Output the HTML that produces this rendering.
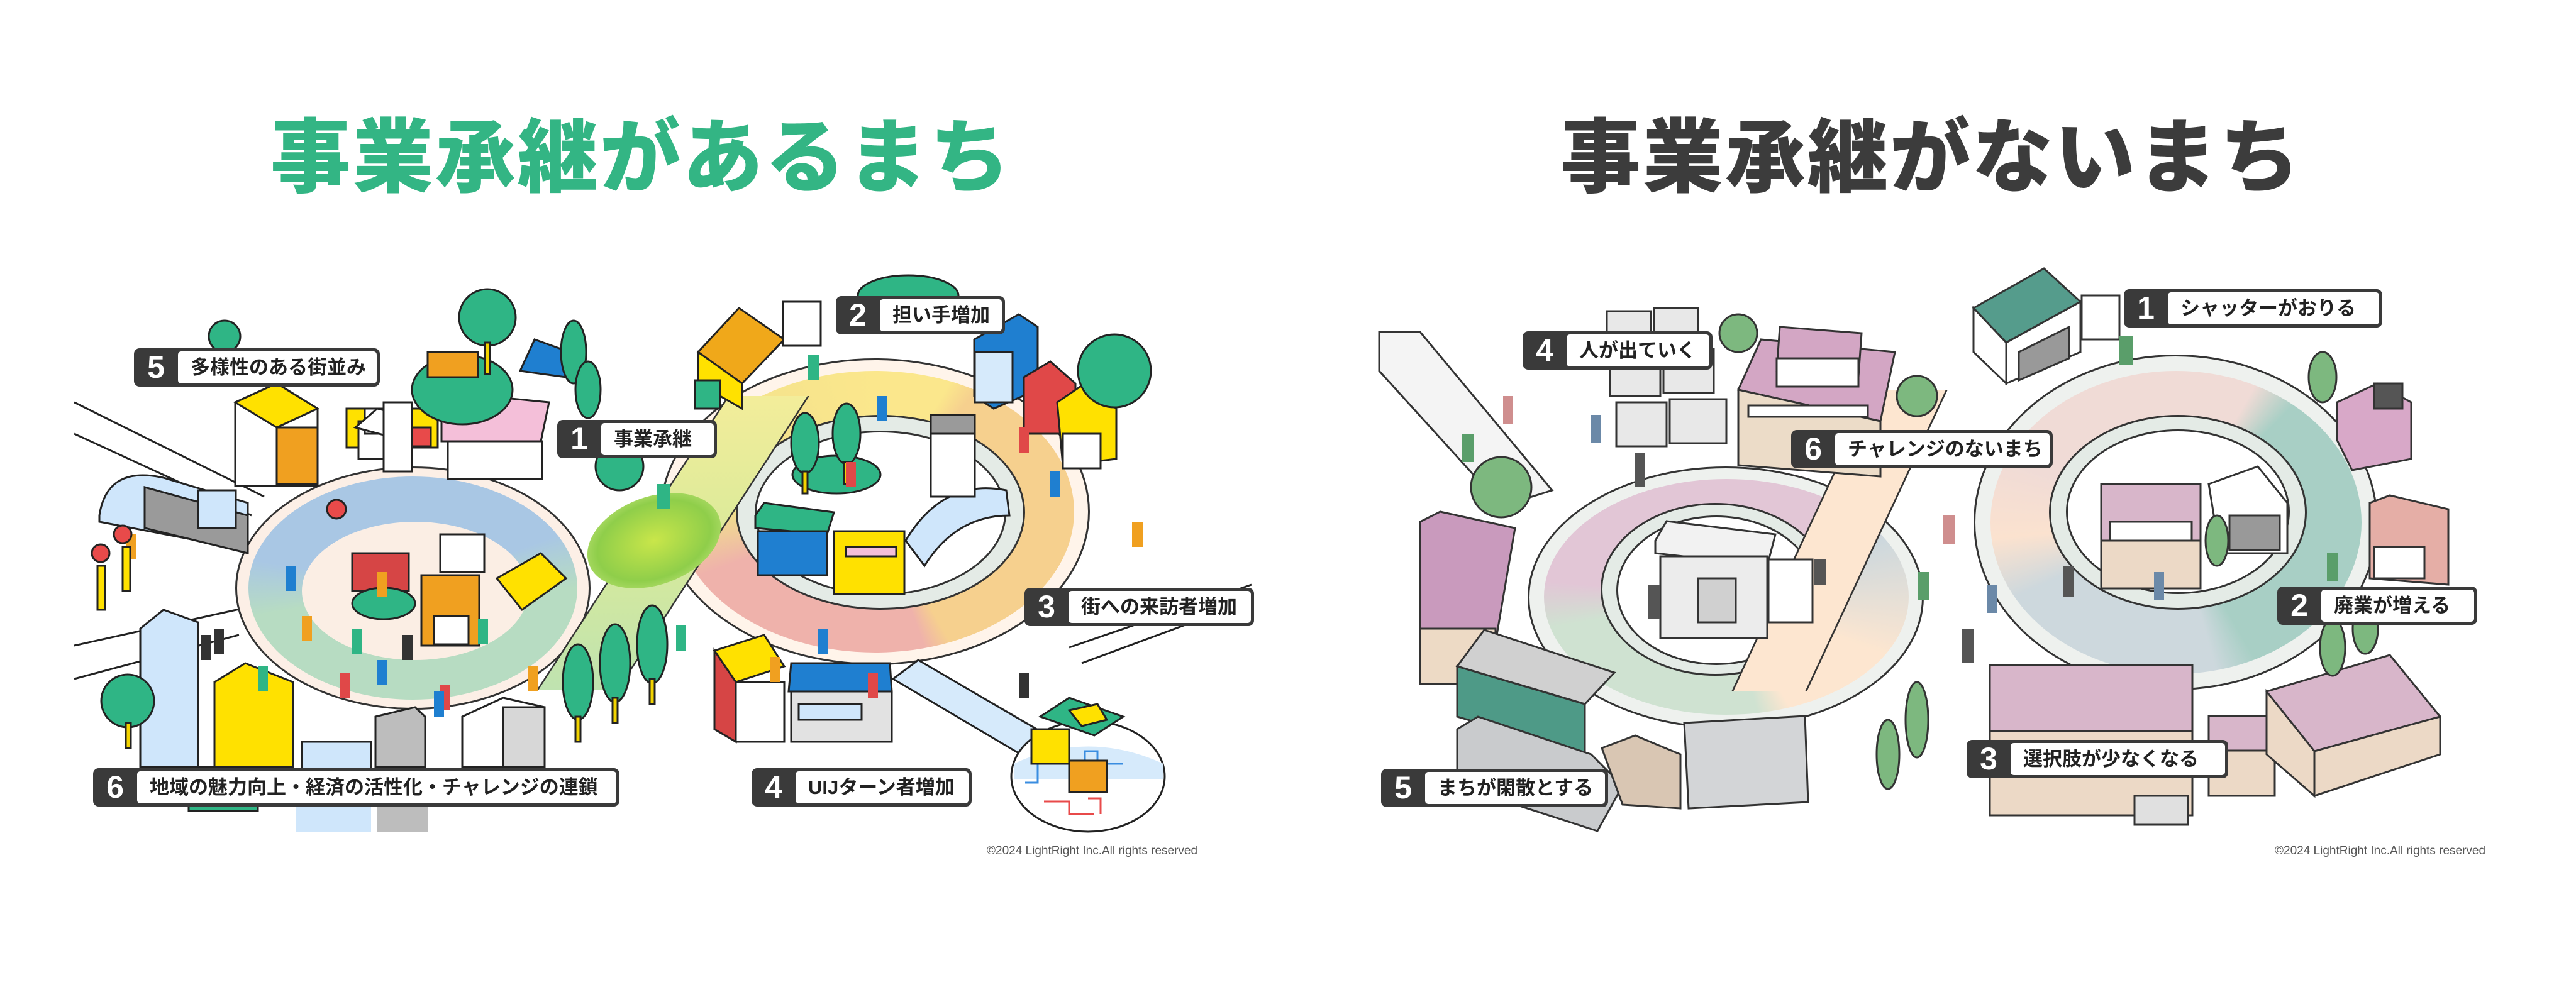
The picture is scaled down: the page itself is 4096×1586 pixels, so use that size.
<!DOCTYPE html>
<html><head><meta charset="utf-8">
<style>
*{margin:0;padding:0;box-sizing:border-box}
body{width:4096px;height:1586px;background:#fff;position:relative;overflow:hidden;font-family:"Liberation Sans","Noto Sans CJK JP",sans-serif}
.a{position:absolute}
.title{position:absolute;top:172px;font-family:"Liberation Sans","Noto Sans CJK JP",sans-serif;font-weight:900;font-size:128px;letter-spacing:3px;white-space:nowrap;line-height:160px}
.lb{position:absolute;height:61px;background:#3a3a3a;border-radius:9px;display:flex;padding:5px 5px 5px 0;z-index:5}
.n{width:70px;color:#fff;font-weight:bold;font-size:50px;text-align:center;line-height:51px}
.t{flex:1;background:#fff;border-radius:5px;font-weight:bold;font-size:31px;line-height:51px;padding-left:20px;color:#222;white-space:nowrap}
.cp{position:absolute;font-size:19px;color:#555;top:1343px}
.ell{position:absolute;border-radius:50%}
</style></head><body>

<div class="title" style="left:430px;color:#33b584">事業承継があるまち</div>
<div class="title" style="left:2481px;color:#3c3c3c">事業承継がないまち</div>

<!-- LEFT SCENE -->
<svg class="a" style="left:0;top:0" width="2048" height="1586" viewBox="0 0 2048 1586">
 <g stroke="#222" stroke-width="3" fill="none">
  <path d="M118 640 L420 790 M118 690 L400 820 M118 1027 L394 966 M118 1080 L380 1010 M1700 1030 L1990 930 M1720 1055 L1990 955"/>
 </g>
</svg>

<!-- right loop left scene -->
<div class="ell" style="left:1050px;top:570px;width:683px;height:488px;background:#fff4ea;border:3px solid #333"></div>
<div class="ell" style="left:1075px;top:590px;width:633px;height:448px;background:conic-gradient(#fbe78c 0deg,#fbe78c 30deg,#f6d08e 40deg,#f6d08e 150deg,#efb2ab 160deg,#efb2ab 250deg,#f0e08c 270deg,#fbe78c 360deg)"></div>
<div class="ell" style="left:1170px;top:660px;width:460px;height:310px;background:#e4ebe6;border:3px solid #333"></div>
<div class="ell" style="left:1200px;top:685px;width:400px;height:262px;background:#fff;border:3px solid #333"></div>

<!-- plaza left -->
<div class="ell" style="left:374px;top:742px;width:565px;height:387px;background:#fcefe6;border:3px solid #333"></div>
<div class="ell" style="left:395px;top:758px;width:523px;height:355px;background:conic-gradient(#a9c7e4 0deg,#a9c7e4 70deg,#b7dcc2 90deg,#b7dcc2 260deg,#a9c7e4 280deg)"></div>
<div class="ell" style="left:480px;top:830px;width:360px;height:220px;background:#fbeee4"></div>

<!-- crossing band -->
<div class="a" style="left:1005px;top:630px;width:130px;height:468px;background:linear-gradient(#f3ed9a,#d9ea9a 50%,#bfe3b0);transform:skewX(-33deg);border-left:3px solid #333;border-right:3px solid #333"></div>
<div class="ell" style="left:930px;top:790px;width:220px;height:140px;background:radial-gradient(#c9e64a,#8fce4a 60%,#d8ee90);transform:rotate(-20deg)"></div>

<svg class="a" style="left:0;top:0" width="2048" height="1586" viewBox="0 0 2048 1586" stroke="#222" stroke-width="3">
 <path d="M1420 1080 L1640 1210 L1700 1190 L1460 1050Z" fill="#d6eafb"/>
 <ellipse cx="1730" cy="1235" rx="122" ry="88" fill="#fff"/>
 <path d="M1612 1215 Q1730 1160 1850 1215 L1850 1240 L1612 1240Z" fill="#d6eafb" stroke="none"/>
 <path d="M1630 1245 h20 v-30 h25 v-30 h25 v40 h25 v-30 h20 v20 h40" fill="none" stroke="#3a8de0" stroke-width="3"/>
 <path d="M1660 1275 h40 v20 h40 M1730 1270 h20 v25" fill="none" stroke="#e84a4a" stroke-width="3"/>
 <path d="M158 820 Q170 740 260 760 L394 800 L394 875 L158 830Z" fill="#cfe6fb"/>
 <path d="M230 775 L394 820 L394 880 L230 840Z" fill="#9a9a9a"/>
 <path d="M374 640 L440 610 L505 650 L505 773 L374 773Z" fill="#fff"/>
 <path d="M374 640 L440 610 L505 650 L440 680Z" fill="#ffe100"/>
 <rect x="440" y="680" width="65" height="90" fill="#f0a020"/>
 <rect x="551" y="650" width="145" height="62" fill="#ffe100"/>
 <rect x="575" y="680" width="110" height="30" fill="#e84a4a"/>
 <path d="M702 650 L722 625 L873 640 L860 702 L702 702Z" fill="#f4bfd9"/>
 <rect x="712" y="702" width="150" height="60" fill="#fff"/>
 <path d="M827 590 L850 540 L906 560 L900 600Z" fill="#1f7fd0"/>
 <rect x="570" y="670" width="70" height="60" fill="#fff"/>
 <rect x="580" y="650" width="50" height="40" fill="#fff"/>
 <path d="M565 680 L600 650 L640 660 L640 700Z" fill="#fff"/>
 <rect x="610" y="640" width="45" height="110" fill="#fff"/>
 <rect x="315" y="780" width="60" height="60" fill="#cfe6fb"/>
 <rect x="670" y="915" width="92" height="112" fill="#f0a020"/>
 <rect x="690" y="980" width="55" height="45" fill="#fff"/>
 <rect x="560" y="880" width="90" height="60" fill="#d64545"/>
 <ellipse cx="610" cy="960" rx="50" ry="25" fill="#2fb585"/>
 <rect x="700" y="850" width="70" height="60" fill="#fff"/>
 <path d="M790 920 L860 880 L900 920 L830 970Z" fill="#ffe100"/>
 <path d="M223 1000 L260 970 L315 990 L315 1220 L223 1220Z" fill="#cfe6fb"/>
 <path d="M341 1085 L390 1055 L466 1085 L466 1220 L341 1220Z" fill="#ffe100"/>
 <path d="M597 1140 L660 1125 L676 1140 L676 1220 L597 1220Z" fill="#bdbdbd"/>
 <path d="M735 1140 L800 1110 L866 1125 L866 1220 L735 1220Z" fill="#fff"/>
 <rect x="800" y="1125" width="66" height="95" fill="#d7d7d7"/>
 <rect x="480" y="1180" width="110" height="60" fill="#cfe6fb"/>
 <rect x="300" y="1220" width="110" height="70" fill="#2fb585"/>
 <rect x="470" y="1283" width="120" height="40" fill="#cfe6fb" stroke="none"/>
 <rect x="600" y="1283" width="80" height="40" fill="#bdbdbd" stroke="none"/>
 <ellipse cx="735" cy="620" rx="80" ry="55" fill="#2fb585"/>
 <rect x="680" y="560" width="80" height="40" fill="#f0a020"/>
 <path d="M1110 560 L1175 490 L1247 540 L1180 610Z" fill="#f0a81a"/>
 <path d="M1110 560 L1180 610 L1180 650 L1110 610Z" fill="#ffe100"/>
 <rect x="1105" y="605" width="40" height="45" fill="#2fb585"/>
 <rect x="1245" y="480" width="60" height="70" fill="#fff"/>
 <path d="M1549 540 L1620 500 L1650 520 L1650 620 L1580 650 L1549 630Z" fill="#1f7fd0"/>
 <rect x="1550" y="560" width="60" height="80" fill="#d6eafb"/>
 <path d="M1628 600 L1670 575 L1710 610 L1710 690 L1628 690Z" fill="#e04848"/>
 <path d="M1681 640 L1725 610 L1775 650 L1775 730 L1690 740Z" fill="#ffe100"/>
 <rect x="1690" y="690" width="60" height="55" fill="#fff"/>
 <path d="M1201 820 L1215 800 L1326 815 L1315 850 L1201 840Z" fill="#2fb585"/>
 <rect x="1205" y="845" width="110" height="70" fill="#1f7fd0"/>
 <rect x="1326" y="845" width="112" height="100" fill="#ffe100"/>
 <rect x="1345" y="870" width="80" height="15" fill="#f4bfd9"/>
 <path d="M1440 860 Q1500 760 1600 780 L1605 820 Q1520 820 1470 900Z" fill="#cfe6fb"/>
 <rect x="1480" y="660" width="70" height="130" fill="#fff"/>
 <rect x="1480" y="660" width="70" height="30" fill="#9a9a9a"/>
 <path d="M1136 1035 L1215 1010 L1247 1060 L1170 1085Z" fill="#ffe100"/>
 <path d="M1136 1035 L1170 1085 L1170 1180 L1136 1160Z" fill="#d64545"/>
 <rect x="1170" y="1085" width="77" height="95" fill="#fff"/>
 <path d="M1258 1055 L1415 1055 L1418 1100 L1254 1100Z" fill="#1f7fd0"/>
 <rect x="1258" y="1100" width="160" height="80" fill="#e2e2e2"/>
 <rect x="1270" y="1120" width="100" height="25" fill="#cfe6fb"/>
 <path d="M1654 1140 L1700 1110 L1786 1140 L1740 1170Z" fill="#2fb585"/>
 <path d="M1700 1130 L1745 1120 L1760 1145 L1720 1155Z" fill="#ffe100"/>
 <rect x="1640" y="1160" width="60" height="55" fill="#ffe100"/>
 <rect x="1700" y="1210" width="60" height="50" fill="#f0a020"/>
 <g fill="#2fb585">
  <circle cx="775" cy="505" r="45"/><circle cx="357" cy="535" r="25"/>
  <circle cx="203" cy="1115" r="42"/><circle cx="985" cy="742" r="38"/>
  <circle cx="1772" cy="590" r="58"/><ellipse cx="1444" cy="470" rx="80" ry="32"/>
  <ellipse cx="1330" cy="755" rx="70" ry="30"/>
 </g>
 <g stroke="#222" stroke-width="3" fill="#f3d400">
  <rect x="200" y="1150" width="8" height="40"/><rect x="771" y="545" width="8" height="50"/>
 </g>
 <g fill="#2fb585">
  <ellipse cx="912" cy="560" rx="20" ry="50"/><ellipse cx="935" cy="620" rx="20" ry="45"/>
  <ellipse cx="919" cy="1085" rx="24" ry="60"/><ellipse cx="978" cy="1055" rx="24" ry="62"/>
  <ellipse cx="1037" cy="1025" rx="24" ry="62"/>
  <ellipse cx="1280" cy="705" rx="22" ry="48"/><ellipse cx="1346" cy="690" rx="22" ry="48"/>
 </g>
 <g fill="#f3d400">
  <rect x="915" y="1140" width="8" height="40"/><rect x="974" y="1110" width="8" height="40"/>
  <rect x="1033" y="1080" width="8" height="40"/><rect x="1276" y="750" width="8" height="35"/>
  <rect x="1342" y="735" width="8" height="35"/>
 </g>
 <g stroke="none">
  <g fill="#2fb585"><rect x="1075" y="995" width="16" height="40"/><rect x="1285" y="565" width="18" height="40"/><rect x="1045" y="770" width="20" height="40"/><rect x="560" y="1000" width="16" height="40"/><rect x="760" y="985" width="16" height="40"/><rect x="410" y="1060" width="16" height="40"/></g>
  <g fill="#f0a020"><rect x="600" y="910" width="16" height="40"/><rect x="480" y="980" width="16" height="40"/><rect x="1225" y="1045" width="16" height="40"/><rect x="1800" y="830" width="18" height="40"/><rect x="840" y="1060" width="16" height="40"/><rect x="200" y="850" width="16" height="40"/></g>
  <g fill="#e04848"><rect x="1345" y="735" width="16" height="40"/><rect x="1380" y="1070" width="16" height="40"/><rect x="540" y="1070" width="16" height="40"/><rect x="700" y="1090" width="16" height="40"/><rect x="1620" y="680" width="16" height="40"/></g>
  <g fill="#1f7fd0"><rect x="455" y="900" width="16" height="40"/><rect x="600" y="1050" width="16" height="40"/><rect x="1300" y="1000" width="16" height="40"/><rect x="1670" y="750" width="16" height="40"/><rect x="1395" y="630" width="16" height="40"/><rect x="690" y="1100" width="16" height="40"/></g>
  <g fill="#333"><rect x="640" y="1010" width="16" height="40"/><rect x="320" y="1010" width="16" height="40"/><rect x="340" y="1000" width="16" height="40"/><rect x="1620" y="1070" width="16" height="40"/></g>
 </g>
 <circle cx="535" cy="810" r="15" fill="#e84a4a"/><circle cx="195" cy="850" r="14" fill="#e84a4a"/><circle cx="160" cy="880" r="14" fill="#e84a4a"/>
 <rect x="195" y="870" width="12" height="70" fill="#ffe100"/><rect x="155" y="900" width="12" height="70" fill="#ffe100"/>
</svg>

<!-- RIGHT SCENE -->
<svg class="a" style="left:2048px;top:0" width="2048" height="1586" viewBox="0 0 2048 1586" stroke="#333" stroke-width="3">
 <path d="M145 528 L210 528 L420 780 L340 805 L145 590Z" fill="#f4f4f4"/>
</svg>
<div class="ell" style="left:3138px;top:564px;width:643px;height:534px;background:#eef1ee;border:3px solid #333"></div>
<div class="ell" style="left:3165px;top:590px;width:590px;height:482px;background:conic-gradient(#f0dbd6 0deg,#f0dbd6 30deg,#a8cfc5 45deg,#a8cfc5 150deg,#cdd8dd 165deg,#cdd8dd 245deg,#fbe2cf 265deg,#f0dbd6 290deg)"></div>
<div class="ell" style="left:3258px;top:660px;width:410px;height:310px;background:#e4ebe6;border:3px solid #333"></div>
<div class="ell" style="left:3285px;top:683px;width:356px;height:262px;background:#fff;border:3px solid #333"></div>
<div class="ell" style="left:2429px;top:742px;width:630px;height:417px;background:#eef1ee;border:3px solid #333"></div>
<div class="ell" style="left:2455px;top:762px;width:580px;height:375px;background:conic-gradient(#e2c6d6 0deg,#e2c6d6 55deg,#cdd8dd 70deg,#fde6d0 110deg,#fde6d0 150deg,#cfe2d1 165deg,#cfe2d1 260deg,#e2c6d6 275deg)"></div>
<div class="ell" style="left:2545px;top:800px;width:365px;height:275px;background:#e4ebe6;border:3px solid #333"></div>
<div class="ell" style="left:2570px;top:820px;width:318px;height:238px;background:#fff;border:3px solid #333"></div>
<div class="a" style="left:2865px;top:620px;width:120px;height:480px;background:#fde6d0;transform:skewX(-25deg);border-left:3px solid #333;border-right:3px solid #333"></div>

<svg class="a" style="left:0;top:0;z-index:2" width="4096" height="1586" viewBox="0 0 4096 1586" stroke="#333" stroke-width="3">
 <path d="M3138 490 L3250 427 L3308 480 L3190 545Z" fill="#559c8c"/>
 <path d="M3138 490 L3190 545 L3190 610 L3138 560Z" fill="#fff"/>
 <path d="M3190 545 L3308 480 L3308 560 L3190 610Z" fill="#fff"/>
 <path d="M3210 560 L3290 520 L3290 570 L3210 605Z" fill="#999"/>
 <rect x="3310" y="470" width="60" height="70" fill="#fff"/>
 <g fill="#e8e8e8">
  <rect x="2555" y="495" width="70" height="60"/><rect x="2630" y="490" width="70" height="60"/>
  <rect x="2560" y="560" width="80" height="70"/><rect x="2645" y="555" width="80" height="70"/>
  <rect x="2570" y="640" width="80" height="70"/><rect x="2655" y="635" width="90" height="70"/>
 </g>
 <path d="M2764 620 L2800 540 L3013 560 L2990 670Z" fill="#d3a6c4"/>
 <path d="M2830 520 L2960 530 L2955 600 L2825 590Z" fill="#d3a6c4"/>
 <rect x="2825" y="570" width="130" height="45" fill="#fff"/>
 <path d="M2764 620 L2990 670 L2990 758 L2764 740Z" fill="#ecdcc8"/>
 <rect x="2780" y="645" width="190" height="18" fill="#fff"/>
 <path d="M2258 830 L2290 814 L2409 840 L2380 1010 L2258 1000Z" fill="#c99abd"/>
 <rect x="2258" y="1000" width="120" height="88" fill="#eddac5"/>
 <path d="M2317 1060 L2360 1002 L2567 1070 L2520 1120Z" fill="#d0d0d0"/>
 <path d="M2317 1060 L2520 1120 L2520 1200 L2317 1140Z" fill="#4e9a87"/>
 <path d="M2317 1160 L2350 1140 L2530 1200 L2580 1250 L2540 1322 L2317 1250Z" fill="#c9cbcd"/>
 <path d="M2547 1190 L2600 1170 L2672 1200 L2672 1286 L2580 1280Z" fill="#d9c6b3"/>
 <path d="M2678 1150 L2870 1139 L2875 1276 L2685 1286Z" fill="#d3d5d7"/>
 <path d="M2632 860 L2650 829 L2823 850 L2810 900 L2632 880Z" fill="#f2f2f2"/>
 <rect x="2640" y="885" width="170" height="130" fill="#ececec"/>
 <rect x="2700" y="920" width="60" height="70" fill="#d0d0d0"/>
 <rect x="2812" y="890" width="70" height="100" fill="#fff"/>
 <rect x="3164" y="1058" width="322" height="105" fill="#d8b6ca"/>
 <rect x="3164" y="1163" width="322" height="134" fill="#ecd9c6"/>
 <rect x="3512" y="1139" width="105" height="55" fill="#d8b6ca"/>
 <rect x="3512" y="1194" width="105" height="72" fill="#ecd9c6"/>
 <path d="M3604 1100 L3800 1042 L3880 1140 L3680 1195Z" fill="#d8b6ca"/>
 <path d="M3604 1100 L3680 1195 L3680 1266 L3604 1200Z" fill="#ecd9c6"/>
 <path d="M3680 1195 L3880 1140 L3880 1200 L3680 1266Z" fill="#ecd9c6"/>
 <rect x="3394" y="1266" width="85" height="46" fill="#e0e0e0"/>
 <rect x="3341" y="770" width="158" height="90" fill="#d8b6ca"/>
 <rect x="3341" y="860" width="158" height="76" fill="#ecd9c6"/>
 <rect x="3355" y="830" width="130" height="30" fill="#fff"/>
 <path d="M3512 770 L3590 742 L3637 800 L3637 880 L3530 880Z" fill="#fff"/>
 <rect x="3545" y="820" width="80" height="55" fill="#999"/>
 <path d="M3716 640 L3780 610 L3834 640 L3834 730 L3740 748 L3716 700Z" fill="#d8a8c8"/>
 <rect x="3775" y="610" width="45" height="40" fill="#555"/>
 <path d="M3768 800 L3800 788 L3893 810 L3893 930 L3768 920Z" fill="#e5aea6"/>
 <rect x="3775" y="870" width="80" height="50" fill="#fff"/>
 <g fill="#7db87f">
  <circle cx="2764" cy="530" r="30"/><circle cx="2387" cy="775" r="48"/><circle cx="3048" cy="630" r="32"/>
  <ellipse cx="3693" cy="600" rx="22" ry="40"/><ellipse cx="3525" cy="860" rx="18" ry="40"/>
  <ellipse cx="3709" cy="1030" rx="20" ry="45"/><ellipse cx="3761" cy="1000" rx="20" ry="40"/>
  <ellipse cx="3002" cy="1200" rx="18" ry="55"/><ellipse cx="3048" cy="1145" rx="18" ry="60"/>
 </g>
 <g stroke="none">
  <g fill="#5a9e6a"><rect x="3370" y="535" width="22" height="45"/><rect x="2325" y="690" width="18" height="45"/><rect x="3050" y="910" width="18" height="45"/><rect x="3700" y="880" width="18" height="45"/></g>
  <g fill="#555"><rect x="2620" y="930" width="20" height="55"/><rect x="2600" y="720" width="16" height="55"/><rect x="3120" y="1000" width="18" height="55"/><rect x="3280" y="900" width="18" height="50"/><rect x="2885" y="890" width="18" height="40"/></g>
  <g fill="#cf8e8e"><rect x="3090" y="820" width="18" height="45"/><rect x="2390" y="630" width="16" height="45"/></g>
  <g fill="#6b89a8"><rect x="3160" y="930" width="16" height="45"/><rect x="2530" y="660" width="16" height="45"/><rect x="3425" y="910" width="16" height="45"/></g>
 </g>
</svg>

<div class="lb" style="left:213px;top:554px;width:391px"><span class="n">5</span><span class="t">多様性のある街並み</span></div>
<div class="lb" style="left:886px;top:668px;width:254px"><span class="n">1</span><span class="t">事業承継</span></div>
<div class="lb" style="left:1329px;top:471px;width:269px"><span class="n">2</span><span class="t">担い手増加</span></div>
<div class="lb" style="left:1629px;top:935px;width:365px"><span class="n">3</span><span class="t">街への来訪者増加</span></div>
<div class="lb" style="left:148px;top:1222px;width:837px"><span class="n">6</span><span class="t">地域の魅力向上・経済の活性化・チャレンジの連鎖</span></div>
<div class="lb" style="left:1195px;top:1222px;width:350px"><span class="n">4</span><span class="t">UIJターン者増加</span></div>

<div class="lb" style="left:3377px;top:460px;width:411px"><span class="n">1</span><span class="t">シャッターがおりる</span></div>
<div class="lb" style="left:2421px;top:527px;width:302px"><span class="n">4</span><span class="t">人が出ていく</span></div>
<div class="lb" style="left:2848px;top:684px;width:416px"><span class="n">6</span><span class="t">チャレンジのないまち</span></div>
<div class="lb" style="left:3621px;top:933px;width:318px"><span class="n">2</span><span class="t">廃業が増える</span></div>
<div class="lb" style="left:3127px;top:1177px;width:416px"><span class="n">3</span><span class="t">選択肢が少なくなる</span></div>
<div class="lb" style="left:2196px;top:1223px;width:361px"><span class="n">5</span><span class="t">まちが閑散とする</span></div>

<div class="cp" style="left:1569px">©2024 LightRight Inc.All rights reserved</div>
<div class="cp" style="left:3617px">©2024 LightRight Inc.All rights reserved</div>
</body></html>
